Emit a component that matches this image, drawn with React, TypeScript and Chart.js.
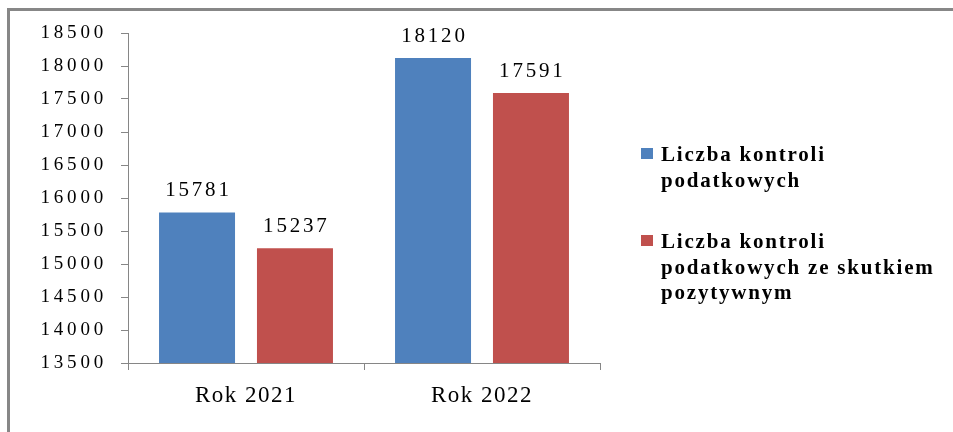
import React, { useEffect, useRef } from "react";
import { Chart, registerables } from "chart.js";

Chart.register(...registerables);

// ---- data ----
const categories = ["Rok 2021", "Rok 2022"];
const seriesNames = ["Liczba kontroli podatkowych", "Liczba kontroli podatkowych ze skutkiem pozytywnym"];
const seriesLegendLines = [
  ["Liczba kontroli", "podatkowych"],
  ["Liczba kontroli", "podatkowych ze skutkiem", "pozytywnym"],
];
const taxControls = [15781, 18120];
const positiveControls = [15237, 17591];
const yMin = 13500;
const yMax = 18500;
const yStep = 500;
const seriesColors = ["#4F81BD", "#C0504D"];

const FONT = '"Liberation Serif", "Times New Roman", Times, serif';
const AXIS_GRAY = "#868686";

const decorPlugin = {
  id: "decor",
  beforeDraw(chart: any) {
    const ctx = chart.ctx;
    ctx.save();
    ctx.fillStyle = "#878787";
    ctx.fillRect(7, 8, 3, chart.height - 8);
    ctx.fillRect(7, 8, chart.width - 7, 3);
    ctx.restore();
    // spacing used for y-axis tick labels (drawn before datasets)
    ctx.letterSpacing = "3.8px";
  },
  afterDatasetsDraw(chart: any) {
    const ctx = chart.ctx;
    ctx.save();
    ctx.letterSpacing = "2.8px";
    ctx.font = `21px ${FONT}`;
    ctx.fillStyle = "#000";
    ctx.textAlign = "center";
    ctx.textBaseline = "alphabetic";
    chart.data.datasets.forEach((ds: any, i: number) => {
      const meta = chart.getDatasetMeta(i);
      meta.data.forEach((el: any, j: number) => {
        ctx.fillText(String(ds.data[j]), el.x + 1.4, el.y - 16);
      });
    });
    ctx.restore();
    // spacing used for x-axis labels (drawn after datasets)
    ctx.letterSpacing = "1.5px";
  },
  afterDraw(chart: any) {
    const ctx = chart.ctx;
    ctx.save();
    ctx.letterSpacing = "1.8px";
    ctx.font = `bold 21px ${FONT}`;
    ctx.textAlign = "left";
    ctx.textBaseline = "alphabetic";
    let baseline = 161;
    const lineH = 25.5;
    chart.data.datasets.forEach((ds: any, i: number) => {
      ctx.fillStyle = ds.backgroundColor;
      ctx.fillRect(641, Math.round(baseline - 13), 12, 11);
      ctx.fillStyle = "#000";
      const lines: string[] = ds.legendLines || [ds.label];
      lines.forEach((line, k) => {
        ctx.fillText(line, 661, baseline + k * lineH);
      });
      baseline += lines.length * lineH + 36;
    });
    ctx.restore();
  },
};

export default function App() {
  const ref = useRef<HTMLCanvasElement | null>(null);

  useEffect(() => {
    if (!ref.current) return;
    const chart = new Chart(ref.current, {
      type: "bar",
      data: {
        labels: categories,
        datasets: [
          {
            label: seriesNames[0],
            legendLines: seriesLegendLines[0],
            data: taxControls,
            backgroundColor: seriesColors[0],
            borderWidth: 0,
            categoryPercentage: 0.83,
            barPercentage: 0.776,
          } as any,
          {
            label: seriesNames[1],
            legendLines: seriesLegendLines[1],
            data: positiveControls,
            backgroundColor: seriesColors[1],
            borderWidth: 0,
            categoryPercentage: 0.83,
            barPercentage: 0.776,
          } as any,
        ],
      },
      options: {
        responsive: false,
        animation: false,
        devicePixelRatio: 1,
        layout: { padding: { left: 0, top: 33, right: 353, bottom: 0 } },
        plugins: {
          legend: { display: false },
          tooltip: { enabled: false },
        },
        scales: {
          x: {
            grid: {
              drawOnChartArea: false,
              drawTicks: true,
              tickLength: 7,
              color: AXIS_GRAY,
              offset: true,
            },
            border: { display: true, color: AXIS_GRAY, width: 1 },
            ticks: {
              font: { family: FONT, size: 23 },
              color: "#000",
              padding: 12,
              z: 1,
            },
            afterFit: (s: any) => {
              s.height = 69;
            },
          },
          y: {
            min: yMin,
            max: yMax,
            grid: {
              drawOnChartArea: false,
              drawTicks: true,
              tickLength: 7,
              color: AXIS_GRAY,
            },
            border: { display: true, color: AXIS_GRAY, width: 1 },
            ticks: {
              stepSize: yStep,
              font: { family: FONT, size: 19 },
              color: "#000",
              padding: 14,
              callback: (v: any) => String(v),
            },
            afterFit: (s: any) => {
              s.width = 128;
            },
          },
        },
      } as any,
      plugins: [decorPlugin],
    });
    return () => chart.destroy();
  }, []);

  return (
    <div style={{ position: "fixed", left: 0, top: 0, width: 953, height: 432, background: "#fff" }}>
      <canvas ref={ref} width={953} height={432} style={{ display: "block", width: 953, height: 432 }} />
    </div>
  );
}
